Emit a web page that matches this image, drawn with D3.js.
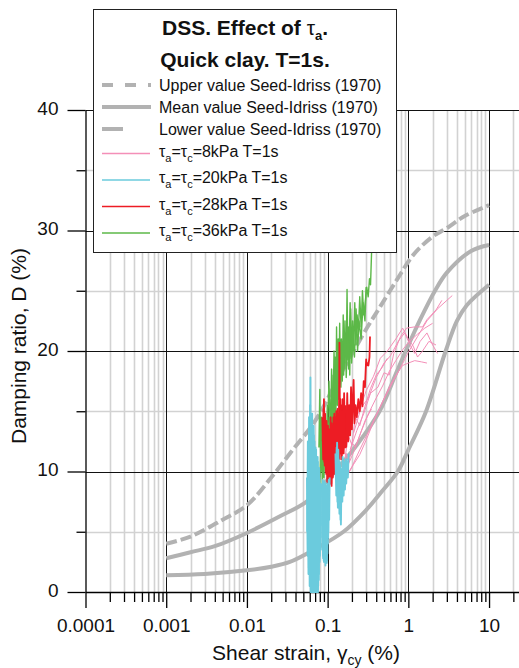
<!DOCTYPE html>
<html>
<head>
<meta charset="utf-8">
<script src="https://cdn.jsdelivr.net/npm/d3@7"></script>
<style>
body { margin: 0; background: #fff; }
svg { display: block; font-family: "Liberation Sans", Arial, sans-serif; }
</style>
</head>
<body>
<svg id="chart" width="519" height="668"></svg>
<script>
// axis ticks
var majorX = [1e-4, 1e-3, 1e-2, 1e-1, 1, 10];
var majorXLabels = ['0.0001', '0.001', '0.01', '0.1', '1', '10'];
var majorY = [0, 10, 20, 30, 40];
var minorY = [5, 15, 25, 35];

// Seed-Idriss (1970) curves, [strain %, damping %]
var upperSI = [[0.001,4.0],[0.002,4.6],[0.005,6.0],[0.01,7.2],[0.02,9.5],[0.035,11.6],[0.07,14.2],
  [0.14,17.9],[0.3,21.8],[0.45,23.7],[0.72,25.9],[1.16,28.0],[2,29.5],[3,30.2],[5,31.2],[10,32.1]];
var meanSI = [[0.001,2.8],[0.002,3.3],[0.004,3.8],[0.01,4.9],[0.026,6.3],[0.055,7.5],[0.1,9.3],
  [0.23,12.2],[0.44,15.0],[0.72,18.3],[0.93,20.0],[1.4,22.6],[2.14,25.0],[3,26.5],[6,28.3],[10,28.8]];
var lowerSI = [[0.001,1.4],[0.003,1.5],[0.01,1.8],[0.02,2.1],[0.034,2.5],[0.067,3.5],[0.157,5.0],
  [0.3,6.8],[0.45,8.2],[0.74,10.0],[1,11.8],[1.66,15.0],[2.9,20.0],[4,22.5],[5.3,23.8],[10,25.5]];

// tests, one array of [strain, D] per specimen
var tau8 = [
  [[0.155,8.8],[0.18,9.8],[0.21,10.6],[0.25,11.4],[0.3,12.6],[0.38,14.3],[0.48,15.8],[0.6,17.2],
   [0.72,18.1],[0.85,18.8],[1.0,19.0],[1.2,19.2],[1.45,19.1],[1.7,19.0]],
  [[0.16,9.3],[0.2,10.4],[0.25,11.8],[0.32,13.3],[0.4,14.7],[0.5,16.0],[0.65,17.5],[0.8,18.6],
   [1.0,19.9],[1.3,21.2],[1.7,22.5],[2.3,23.5],[3.0,24.2],[3.5,24.6]],
  [[0.17,10.2],[0.21,11.6],[0.26,13.3],[0.32,14.8],[0.4,16.1],[0.48,17.1],[0.58,18.3],[0.7,19.2],
   [0.85,20.1],[1.0,20.7],[1.3,21.4],[1.6,21.9],[2.0,22.3]],
  [[0.19,11.8],[0.23,13.4],[0.28,14.8],[0.34,16.5],[0.42,17.0],[0.5,18.2],[0.58,18.0],[0.66,19.8],
   [0.8,21.2],[0.95,21.9],[1.2,22.0],[1.5,22.0],[1.7,22.6],[2.2,23.4],[2.6,24.2]],
  [[0.21,13.2],[0.26,15.3],[0.32,16.1],[0.4,17.8],[0.5,19.0],[0.6,19.6],[0.75,20.8],[0.9,21.5],
   [1.05,20.5],[1.2,19.8],[1.4,20.8],[1.7,21.5],[2.0,20.5],[2.3,19.8]],
  [[0.24,14.8],[0.3,16.7],[0.37,17.9],[0.45,19.4],[0.55,20.0],[0.7,21.0],[0.85,21.9],[1.0,21.0],
   [1.15,20.4],[1.3,19.5],[1.5,20.0],[1.8,20.8],[2.2,20.5]],
  [[0.165,11.2],[0.18,13.0],[0.2,12.2],[0.22,14.5],[0.25,13.8],[0.29,15.4],[0.34,16.9],[0.4,18.0],
   [0.47,18.6],[0.55,19.4]],
  [[0.16,10.0],[0.17,11.5],[0.185,10.8],[0.2,12.4],[0.22,12.0],[0.25,13.0],[0.29,14.2],[0.35,15.2]]
];
var tau20 = [
  [[0.0555,9.5],[0.0565,3.0],[0.0575,11.5],[0.0585,2.0],[0.0595,13.5],[0.0605,1.0],[0.0612,17.8],
   [0.062,0.3],[0.0628,14.0],[0.0636,0.0],[0.0644,14.8],[0.0652,0.0],[0.066,12.5],[0.0668,0.0],
   [0.0676,13.0],[0.0684,0.0],[0.0692,11.5],[0.07,0.2],[0.0708,12.0],[0.0716,0.0],[0.0724,11.0],
   [0.0732,0.3],[0.074,10.5],[0.0748,0.0],[0.0756,10.8],[0.0764,0.5],[0.0772,10.0],[0.078,1.5],
   [0.079,9.5],[0.080,3.0],[0.081,9.0],[0.082,4.5]],
  [[0.0559,5.0],[0.0569,12.5],[0.0579,1.5],[0.0589,14.5],[0.0599,0.5],[0.0608,15.5],[0.0616,0.0],
   [0.0624,13.0],[0.0632,0.2],[0.064,13.5],[0.0648,0.0],[0.0656,12.0],[0.0664,0.0],[0.0672,13.8],
   [0.068,0.0],[0.0688,12.5],[0.0696,0.0],[0.0704,11.0],[0.0712,0.0],[0.072,11.8],[0.0728,0.0],
   [0.0736,10.2],[0.0744,0.4],[0.0752,11.2],[0.076,0.0],[0.0768,9.8],[0.0776,1.0],[0.0785,10.3],
   [0.0795,2.5],[0.0805,8.8],[0.0815,3.5]],
  [[0.085,9.0],[0.086,3.5],[0.087,9.3],[0.088,2.8],[0.089,8.8],[0.09,2.5],[0.091,9.2],[0.092,3.0],
   [0.093,8.5],[0.094,2.2],[0.095,9.0],[0.096,3.5],[0.097,8.0],[0.098,2.6],[0.099,8.5],[0.1,4.0],
   [0.101,9.0],[0.102,5.0],[0.103,9.3],[0.1045,6.0],[0.106,9.5]],
  [[0.0855,5.5],[0.0865,8.8],[0.0875,3.0],[0.0885,9.0],[0.0895,2.6],[0.0905,8.5],[0.0915,2.8],
   [0.0925,9.0],[0.0935,2.5],[0.0945,8.2],[0.0955,3.0],[0.0965,8.8],[0.0975,2.4],[0.0985,7.5],
   [0.0995,3.2],[0.1005,8.0],[0.1015,4.5],[0.1025,8.5]],
  [[0.125,11.5],[0.128,8.0],[0.131,12.4],[0.134,7.0],[0.137,11.0],[0.14,6.5],[0.143,10.5],
   [0.146,5.6],[0.149,10.0],[0.152,7.5],[0.155,11.0],[0.158,8.0],[0.161,10.5],[0.164,8.5],
   [0.167,11.0],[0.17,9.0],[0.174,10.8],[0.178,9.5],[0.182,11.5]],
  [[0.1265,9.5],[0.1295,12.0],[0.1325,7.5],[0.1355,11.8],[0.1385,7.0],[0.1415,10.8],[0.1445,6.0],
   [0.1475,10.2],[0.1505,8.5],[0.1535,11.2],[0.1565,8.8],[0.1595,10.8],[0.1625,9.0],[0.1655,10.5],
   [0.1685,9.5],[0.172,11.0],[0.176,9.8]]
];
var tau28 = [
  [[0.086,14.5],[0.088,11.0],[0.09,16.0],[0.092,10.5],[0.094,14.0],[0.096,9.8],[0.098,13.5],
   [0.1,9.0],[0.102,13.0],[0.104,8.7],[0.106,12.5],[0.108,9.0],[0.11,14.0],[0.112,8.8],[0.114,13.0],
   [0.116,9.5],[0.118,14.5],[0.12,9.8],[0.122,13.5],[0.125,10.5],[0.128,15.0],[0.131,10.8],
   [0.134,14.0],[0.137,11.0],[0.14,20.7],[0.143,11.5],[0.146,15.5],[0.15,11.0],[0.154,16.0],
   [0.158,11.5],[0.162,15.0],[0.166,12.0],[0.17,14.5]],
  [[0.087,12.5],[0.089,15.2],[0.091,10.8],[0.093,14.8],[0.095,10.0],[0.097,14.2],[0.099,9.2],
   [0.101,13.8],[0.103,8.8],[0.105,13.5],[0.107,9.2],[0.109,14.5],[0.111,9.0],[0.113,14.0],
   [0.115,9.6],[0.117,13.8],[0.119,10.0],[0.121,14.8],[0.1235,10.2],[0.1265,14.5],[0.1295,10.6],
   [0.1325,15.2],[0.1355,11.2],[0.1385,14.8],[0.1415,11.0],[0.1445,16.0],[0.148,11.5],[0.152,15.0],
   [0.156,11.8],[0.16,16.5],[0.164,12.2],[0.168,15.5]],
  [[0.17,12.0],[0.175,16.5],[0.18,12.5],[0.185,15.5],[0.19,13.0],[0.195,17.0],[0.2,13.5],[0.205,16.0],
   [0.21,17.6],[0.215,14.0],[0.222,15.5],[0.23,14.5],[0.24,16.0],[0.25,15.0],[0.26,16.5],[0.27,15.4],
   [0.28,17.5],[0.29,17.0],[0.3,19.3],[0.305,18.8],[0.31,19.0],[0.32,18.8],[0.33,19.5],[0.335,21.2]]
];
var tau36 = [
  [[0.08,9.0],[0.083,12.5],[0.086,10.0],[0.089,13.0],[0.092,10.5],[0.095,12.0],[0.098,11.0],
   [0.101,13.5],[0.104,11.5],[0.107,12.5],[0.11,11.0],[0.113,13.0]],
  [[0.078,12.0],[0.08,16.8],[0.082,10.0],[0.084,14.5],[0.086,8.5],[0.088,13.0],[0.09,9.5],
   [0.093,14.0],[0.096,11.0],[0.099,15.5],[0.102,12.0],[0.105,14.5],[0.108,11.5],[0.111,16.0],
   [0.114,12.5],[0.117,18.0],[0.12,13.0],[0.123,19.5],[0.126,14.5],[0.129,22.0],[0.132,15.5],
   [0.135,21.0],[0.138,17.0],[0.141,22.3],[0.144,18.0],[0.148,21.0],[0.152,17.5],[0.156,23.0],
   [0.16,18.5],[0.165,21.5],[0.17,19.0],[0.174,25.1],[0.178,19.3],[0.183,22.0],[0.188,18.0],
   [0.193,23.5],[0.198,19.5],[0.204,22.5],[0.21,20.0],[0.217,24.0],[0.224,20.5],[0.232,23.0],
   [0.24,21.5],[0.25,24.5],[0.26,22.0],[0.27,25.0],[0.28,23.0],[0.292,24.0],[0.305,25.3],
   [0.318,24.5],[0.33,26.0],[0.34,25.5],[0.35,28.1],[0.355,29.0]],
  [[0.1,14.0],[0.104,17.5],[0.108,13.0],[0.112,18.5],[0.116,14.0],[0.12,20.0],[0.125,15.0],
   [0.13,19.0],[0.135,16.0],[0.14,21.0],[0.146,17.0],[0.152,20.5],[0.158,18.0],[0.164,22.5],
   [0.17,17.8],[0.176,21.5],[0.182,18.5],[0.19,24.0],[0.198,19.0],[0.206,21.0],[0.215,19.5],
   [0.225,23.5],[0.235,20.0],[0.245,22.5],[0.26,21.0],[0.275,24.0],[0.29,22.5],[0.3,25.3]]
];

var legendRows = [
  { text: 'Upper value Seed-Idriss (1970)', kind: 'upper' },
  { text: 'Mean value Seed-Idriss (1970)', kind: 'mean' },
  { text: 'Lower value Seed-Idriss (1970)', kind: 'lower' },
  { tau: '8', color: '#f48fb8' },
  { tau: '20', color: '#6bcbdd' },
  { tau: '28', color: '#ed1c24' },
  { tau: '36', color: '#5cb848' }
];

var svg = d3.select('#chart');
var x = d3.scaleLog().domain([1e-4, 23.5]).range([85.5, 519]);
var y = d3.scaleLinear().domain([0, 40]).range([592, 110]);
var gray = '#b2b2b2';

// grid
var minorX = x.ticks().filter(function(v) { return majorX.indexOf(v) < 0 && v <= 20; });
var grid = svg.append('g');
grid.selectAll('.gx').data(minorX).enter().append('line')
  .attr('x1', function(d) { return Math.round(x(d)) + 0.5; })
  .attr('x2', function(d) { return Math.round(x(d)) + 0.5; })
  .attr('y1', y(40)).attr('y2', y(0))
  .attr('stroke', '#d2d2d2').attr('stroke-width', 1.6);
grid.selectAll('.gy').data(minorY).enter().append('line')
  .attr('x1', x(1e-4)).attr('x2', 519)
  .attr('y1', function(d) { return Math.round(y(d)) + 0.5; })
  .attr('y2', function(d) { return Math.round(y(d)) + 0.5; })
  .attr('stroke', '#d2d2d2').attr('stroke-width', 1.6);
grid.selectAll('.gX').data(majorX.slice(1)).enter().append('line')
  .attr('x1', function(d) { return Math.round(x(d)) + 0.5; })
  .attr('x2', function(d) { return Math.round(x(d)) + 0.5; })
  .attr('y1', y(40)).attr('y2', y(0))
  .attr('stroke', '#111').attr('stroke-width', 1);
grid.selectAll('.gY').data(majorY.slice(1)).enter().append('line')
  .attr('x1', x(1e-4)).attr('x2', 519)
  .attr('y1', function(d) { return Math.round(y(d)) + 0.5; })
  .attr('y2', function(d) { return Math.round(y(d)) + 0.5; })
  .attr('stroke', '#111').attr('stroke-width', 1);

// axes
var xAxis = svg.append('g').attr('transform', 'translate(0,' + y(0) + ')');
xAxis.call(d3.axisBottom(x).tickValues(majorX).tickSize(16).tickSizeOuter(0).tickPadding(11)
  .tickFormat(function(d, i) { return majorXLabels[i]; }));
xAxis.append('g').call(d3.axisBottom(x).tickValues(minorX).tickSize(10).tickSizeOuter(0).tickFormat(''))
  .select('.domain').remove();
var yAxis = svg.append('g').attr('transform', 'translate(' + x(1e-4) + ',0)');
yAxis.call(d3.axisLeft(y).tickValues(majorY).tickSize(18).tickSizeOuter(0).tickPadding(9));
yAxis.append('g').call(d3.axisLeft(y).tickValues(minorY).tickSize(9).tickSizeOuter(0).tickFormat(''))
  .select('.domain').remove();
svg.selectAll('.tick text').attr('font-size', 19).attr('fill', '#111')
  .attr('font-family', '"Liberation Sans", Arial, sans-serif');
yAxis.selectAll('.tick text').attr('dy', '0.22em');
svg.selectAll('.domain, .tick line').attr('stroke', '#000').attr('stroke-width', 1.3);

// axis titles
var xt = svg.append('text').attr('x', 306).attr('y', 660).attr('text-anchor', 'middle')
  .attr('font-size', 21).attr('fill', '#111');
xt.append('tspan').text('Shear strain, γ');
xt.append('tspan').attr('font-size', 14).attr('dy', 5).text('cy');
xt.append('tspan').attr('dy', -5).text(' (%)');
svg.append('text').attr('transform', 'translate(26,346) rotate(-90)').attr('text-anchor', 'middle')
  .attr('font-size', 21).attr('fill', '#111').text('Damping ratio, D (%)');

// Seed-Idriss curves
var smooth = d3.line().curve(d3.curveCatmullRom.alpha(0.5))
  .x(function(d) { return x(d[0]); }).y(function(d) { return y(d[1]); });
svg.append('path').attr('d', smooth(lowerSI)).attr('fill', 'none')
  .attr('stroke', gray).attr('stroke-width', 4);
svg.append('path').attr('d', smooth(meanSI)).attr('fill', 'none')
  .attr('stroke', gray).attr('stroke-width', 4);
svg.append('path').attr('d', smooth(upperSI)).attr('fill', 'none')
  .attr('stroke', gray).attr('stroke-width', 4).attr('stroke-dasharray', '11,4');

// test data
var line = d3.line().x(function(d) { return x(d[0]); }).y(function(d) { return y(d[1]); });
function drawTests(data, color, w) {
  svg.append('g').selectAll('path').data(data).enter().append('path')
    .attr('d', line).attr('fill', 'none').attr('stroke', color)
    .attr('stroke-width', w).attr('stroke-linejoin', 'round');
}
drawTests(tau8, legendRows[3].color, 1);
drawTests(tau36, legendRows[6].color, 1.4);
drawTests(tau28, legendRows[5].color, 1.8);
drawTests(tau20, legendRows[4].color, 1.9);

// legend
var lg = svg.append('g');
lg.append('rect').attr('x', 93.5).attr('y', 9.5).attr('width', 303).attr('height', 243)
  .attr('fill', '#fff').attr('stroke', '#222').attr('stroke-width', 1);
var t1 = lg.append('text').attr('x', 245).attr('y', 35).attr('text-anchor', 'middle')
  .attr('font-size', 21).attr('font-weight', 'bold').attr('fill', '#111');
t1.append('tspan').text('DSS. Effect of ');
t1.append('tspan').attr('font-weight', 'normal').text('τ');
t1.append('tspan').attr('font-size', 13).attr('dy', 5).text('a');
t1.append('tspan').attr('dy', -5).text('.');
lg.append('text').attr('x', 245).attr('y', 67).attr('text-anchor', 'middle')
  .attr('font-size', 21).attr('font-weight', 'bold').attr('fill', '#111').text('Quick clay. T=1s.');

var rowY = [85, 107, 129, 153.5, 180, 206.5, 233];
legendRows.forEach(function(r, i) {
  var cy = rowY[i];
  if (r.kind) {
    var ln = lg.append('line').attr('x1', 102).attr('x2', r.kind === 'lower' ? 123 : 151)
      .attr('y1', cy).attr('y2', cy).attr('stroke', gray).attr('stroke-width', 4);
    if (r.kind === 'upper') { ln.attr('stroke-dasharray', '11,12'); }
    lg.append('text').attr('x', 159).attr('y', cy + 6).attr('font-size', 16).attr('fill', '#111').text(r.text);
  } else {
    lg.append('line').attr('x1', 102).attr('x2', 150).attr('y1', cy).attr('y2', cy)
      .attr('stroke', r.color).attr('stroke-width', 1.3);
    var t = lg.append('text').attr('x', 159).attr('y', cy + 3).attr('font-size', 16).attr('fill', '#111');
    t.append('tspan').text('τ');
    t.append('tspan').attr('font-size', 11).attr('dy', 5).text('a');
    t.append('tspan').attr('dy', -5).text('=τ');
    t.append('tspan').attr('font-size', 11).attr('dy', 5).text('c');
    t.append('tspan').attr('dy', -5).text('=' + r.tau + 'kPa T=1s');
  }
});
</script>
</body>
</html>
